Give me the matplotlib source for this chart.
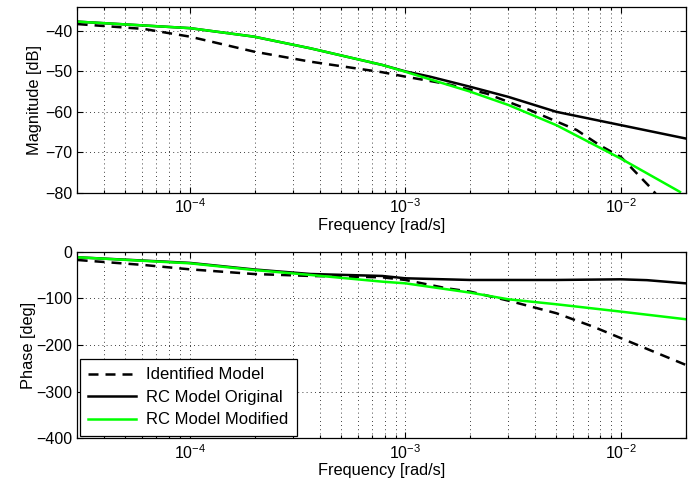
import numpy as np
import matplotlib
matplotlib.use('Agg')
import matplotlib.pyplot as plt
from matplotlib.ticker import LogLocator, NullFormatter

plt.rcParams['font.family'] = ['Liberation Sans', 'DejaVu Sans']
plt.rcParams['font.size'] = 11.5

# frequencies are given as log10 values
# magnitude [dB]
f_mag_green = [-4.52, -4.0, -3.703, -3.44, -3.108, -3.0, -2.70, -2.523, -2.30, -2.0, -1.727]
mag_green = [-37.7, -39.3, -41.4, -44.3, -48.4, -50.1, -55.0, -58.3, -63.3, -71.6, -79.8]

f_mag_black = [-4.52, -4.0, -3.703, -3.44, -3.108, -3.0, -2.886, -2.70, -2.523, -2.30, -2.0, -1.70]
mag_black = [-37.7, -39.3, -41.4, -44.3, -48.4, -50.0, -51.3, -53.8, -56.3, -60.0, -63.3, -66.6]

f_mag_dash = [-4.52, -4.213, -4.0, -3.703, -3.44, -3.108, -3.0, -2.809, -2.623, -2.422,
              -2.206, -2.098, -2.0, -1.866, -1.82]
mag_dash = [-38.3, -39.5, -41.4, -45.1, -47.6, -50.2, -51.3, -53.1, -55.5, -59.6,
            -64.5, -68.3, -71.2, -78.6, -81.5]

# phase [deg]
f_ph_green = [-4.52, -4.0, -3.703, -3.44, -3.108, -3.0, -2.70, -2.523, -2.30, -2.0, -1.70]
ph_green = [-12.0, -24.9, -39.2, -49.9, -64.2, -67.8, -87.7, -102.0, -112.7, -128.5, -144.8]

f_ph_black = [-4.52, -4.0, -3.703, -3.44, -3.108, -3.0, -2.70, -2.30, -2.0, -1.88, -1.70]
ph_black = [-12.0, -24.0, -38.0, -47.8, -52.0, -57.0, -60.6, -60.6, -59.2, -61.0, -67.8]

f_ph_dash = [-4.52, -4.213, -4.0, -3.703, -3.44, -3.108, -3.0, -2.809, -2.70, -2.523,
             -2.30, -2.13, -2.0, -1.70]
ph_dash = [-17.8, -28.5, -37.8, -47.8, -52.0, -54.9, -60.6, -78.4, -85.6, -104.9,
           -131.9, -160.6, -185.5, -242.6]

labels = ['Identified Model', 'RC Model Original', 'RC Model Modified']

fig = plt.figure(figsize=(6.94, 4.90), dpi=100)
W, H = 694.0, 490.0
ax1 = fig.add_axes([77 / W, 1 - 192.7 / H, 609 / W, 186 / H])
ax2 = fig.add_axes([77 / W, 1 - 438.3 / H, 609 / W, 186.6 / H])

green = '#00ff00'
dash = (0, (4.0, 2.8))
grid_ls = (0, (1, 4))


def tolin(f):
    return 10.0 ** np.array(f)


for ax in (ax1, ax2):
    ax.set_xscale('log')
    ax.set_xlim(3e-5, 2e-2)
    ax.xaxis.set_major_locator(LogLocator(base=10, numticks=10))
    ax.xaxis.set_minor_locator(LogLocator(base=10, subs=np.arange(2, 10), numticks=20))
    ax.xaxis.set_minor_formatter(NullFormatter())
    ax.tick_params(which='both', direction='in', top=True, right=True, width=0.8)
    ax.tick_params(which='major', length=4, labelsize=11.5)
    ax.tick_params(which='minor', length=2)
    ax.grid(True, which='major', color='k', linestyle=grid_ls, linewidth=0.6)
    ax.grid(True, which='minor', axis='x', color='k', linestyle=grid_ls, linewidth=0.6)
    for s in ax.spines.values():
        s.set_linewidth(0.9)
    ax.set_xlabel('Frequency [rad/s]', fontsize=11.8, labelpad=1)

ax1.plot(tolin(f_mag_dash), mag_dash, color='k', linestyle=dash, linewidth=1.8)
ax1.plot(tolin(f_mag_black), mag_black, color='k', linewidth=1.8)
ax1.plot(tolin(f_mag_green), mag_green, color=green, linewidth=1.8)
ax1.set_ylim(-80, -34)
ax1.set_yticks([-80, -70, -60, -50, -40])
ax1.set_ylabel('Magnitude [dB]', fontsize=11.8, labelpad=2)

l1, = ax2.plot(tolin(f_ph_dash), ph_dash, color='k', linestyle=dash, linewidth=1.8)
l2, = ax2.plot(tolin(f_ph_black), ph_black, color='k', linewidth=1.8)
l3, = ax2.plot(tolin(f_ph_green), ph_green, color=green, linewidth=1.8)
ax2.set_ylim(-400, 0)
ax2.set_yticks([-400, -300, -200, -100, 0])
ax2.set_ylabel('Phase [deg]', fontsize=11.8, labelpad=0)

leg = ax2.legend([l1, l2, l3], labels, loc='lower left', fontsize=12,
                 fancybox=False, edgecolor='k', framealpha=1,
                 borderaxespad=0.15, handlelength=2.9, handletextpad=0.6,
                 borderpad=0.5, labelspacing=0.45)
leg.get_frame().set_linewidth(0.9)

fig.savefig('out.png', dpi=100)
